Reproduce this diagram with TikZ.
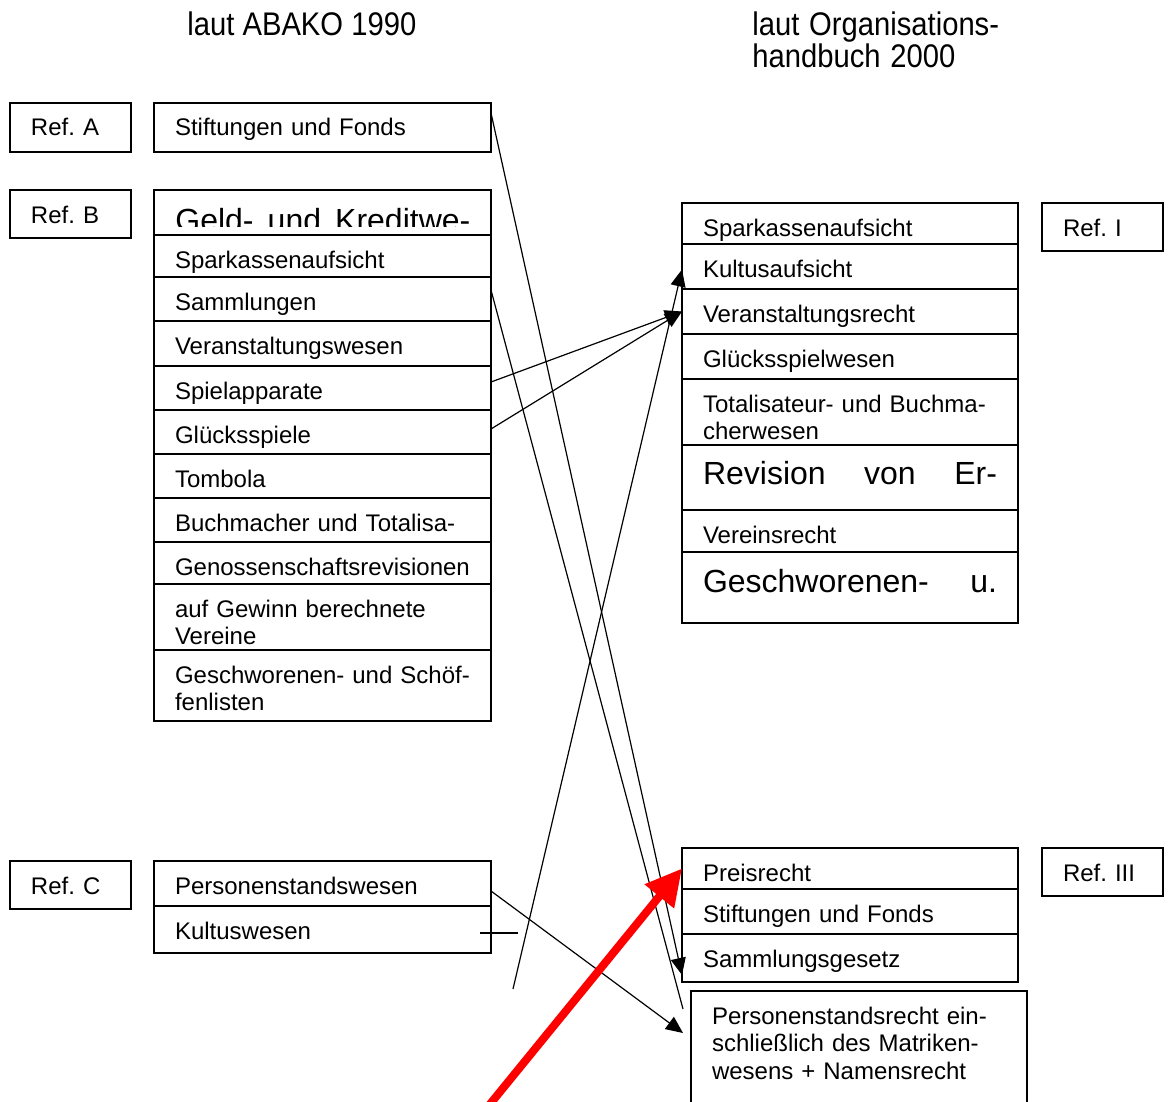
\documentclass[tikz,border=0pt]{standalone}
\usepackage{fontspec}
\setmainfont{Liberation Sans}
\usetikzlibrary{positioning,arrows.meta}
\frenchspacing
\tikzset{
  cell/.style={draw, line width=0.7pt, rectangle, anchor=north west, outer sep=0pt,
    inner xsep=10.5pt, inner ysep=0pt, text height=16.5pt, align=left,
    font=\fontsize{12}{13.8}\selectfont},
  lcell/.style={cell, text width=147.5pt},
  rcell/.style={cell, text width=147pt},
  refbox/.style={cell, text width=39.5pt, text depth=7.5pt},
  bigtext/.style={font=\fontsize{16}{18.4}\selectfont},
  header/.style={anchor=base west, inner sep=0pt, align=left,
    font=\fontsize{14.6}{16}\selectfont},
  link/.style={line width=0.6pt, -{Triangle[length=8.5pt,width=7.5pt]}},
  plainlink/.style={line width=0.6pt},
  redlink/.style={line width=4pt, red, -{Triangle[length=18pt,width=18pt]}}
}
\begin{document}
\begin{tikzpicture}[x=0.5pt,y=-0.5pt]
\useasboundingbox (0,0) rectangle (1168,1102);
\clip (0,0) rectangle (1168,1102);
% Headers
	\node [header] (hleft) at (187,36) {\scalebox{1}[1.12]{laut ABAKO 1990}};
	\node [header, text width=150pt] (hright) at (752,36) {\scalebox{1}[1.12]{laut Organisations-}\\\scalebox{1}[1.12]{handbuch 2000}};
% Reference boxes
	\node [refbox, text depth=8pt] (refA) at (10,103) {Ref. A};
	\node [refbox] (refB) at (10,190) {Ref. B};
	\node [refbox] (refC) at (10,861) {Ref. C};
	\node [refbox] (refI) at (1042,203) {Ref. I};
	\node [refbox] (refIII) at (1042,848) {Ref. III};
% Left column (ABAKO 1990)
	\node [lcell, text depth=8pt] (stift) at (154,103) {Stiftungen und Fonds};
	\node [lcell, text depth=6pt] (geld) at (154,190) {};
	\begin{scope}
		\clip (geld.north west) rectangle ([yshift=4.5pt]geld.south east);
		\node [bigtext, anchor=base west, inner sep=0pt] (geldtext) at ([xshift=10.5pt,yshift=-20.5pt]geld.north west) {\makebox[147.5pt][s]{Geld- und Kreditwe-}};
	\end{scope}
	\node [lcell, text depth=4.5pt, below=0pt of geld] (spark) {Sparkassenaufsicht};
	\node [lcell, text depth=5.5pt, below=0pt of spark] (samml) {Sammlungen};
	\node [lcell, text depth=6pt, below=0pt of samml] (veran) {Veranstaltungswesen};
	\node [lcell, text depth=5.5pt, below=0pt of veran] (spiel) {Spielapparate};
	\node [lcell, text depth=5.5pt, below=0pt of spiel] (glueck) {Glücksspiele};
	\node [lcell, text depth=5.5pt, below=0pt of glueck] (tombola) {Tombola};
	\node [lcell, text depth=5.5pt, below=0pt of tombola] (buchm) {Buchmacher und Totalisa-};
	\node [lcell, text depth=4.5pt, below=0pt of buchm] (genoss) {Genossenschaftsrevisionen};
	\node [lcell, text depth=16.5pt, below=0pt of genoss] (gewinn) {auf Gewinn berechnete\\Vereine};
	\node [lcell, text depth=19pt, below=0pt of gewinn] (geschw) {Geschworenen- und Schöf-\\fenlisten};
	\node [lcell, text depth=6pt] (perso) at (154,861) {Personenstandswesen};
	\node [lcell, text depth=7pt, below=0pt of perso] (kultus) {Kultuswesen};
% Right column (Organisationshandbuch 2000)
	\node [rcell, text depth=4pt] (rspark) at (682,203) {Sparkassenaufsicht};
	\node [rcell, text depth=6pt, below=0pt of rspark] (rkultus) {Kultusaufsicht};
	\node [rcell, text depth=6pt, below=0pt of rkultus] (rveran) {Veranstaltungsrecht};
	\node [rcell, text depth=6pt, below=0pt of rveran] (rglueck) {Glücksspielwesen};
	\node [rcell, text depth=16.5pt, below=0pt of rglueck] (rtotal) {Totalisateur- und Buchma-\\cherwesen};
	\node [rcell, bigtext, text height=19.5pt, text depth=13pt, below=0pt of rtotal] (rrevision) {\hbox to 147pt{Revision\hfill von\hfill Er-}};
	\node [rcell, text depth=4.5pt, below=0pt of rrevision] (rverein) {Vereinsrecht};
	\node [rcell, bigtext, text height=20pt, text depth=15.5pt, below=0pt of rverein] (rgeschw) {\hbox to 147pt{Geschworenen-\hfill u.}};
	\node [rcell, text depth=4pt] (preis) at (682,848) {Preisrecht};
	\node [rcell, text depth=6pt, below=0pt of preis] (rstift) {Stiftungen und Fonds};
	\node [rcell, text depth=7.5pt, below=0pt of rstift] (rsamml) {Sammlungsgesetz};
	\node [rcell, text depth=48.5pt] (rperso) at (691,991) {Personenstandsrecht ein-\\schließlich des Matriken-\\wesens + Namensrecht};
% Free ends
	\coordinate (sammlend) at (683,1009);
	\coordinate (kultstart) at (513,989);
	\coordinate (kultend) at (518,933);
	\coordinate (persoend) at (683,1033);
	\coordinate (redstart) at (473,1125);
% Connectors
	\draw [link] ([yshift=-5pt]stift.north east) -- ([yshift=3.5pt]rsamml.south west);
	\draw [plainlink] ([yshift=-6.5pt]samml.north east) -- (sammlend);
	\draw [link] ([yshift=-8pt]spiel.north east) -- (rveran.west);
	\draw [link] ([yshift=-9.5pt]glueck.north east) -- (rveran.west);
	\draw [link] (kultstart) -- ([yshift=-1.5pt]rkultus.west);
	\draw [plainlink] ([xshift=-5.5pt,yshift=-13.5pt]kultus.north east) -- (kultend);
	\draw [link] ([yshift=-15pt]perso.north east) -- (persoend);
	\draw [redlink] (redstart) -- (preis.west);
\end{tikzpicture}
\end{document}
